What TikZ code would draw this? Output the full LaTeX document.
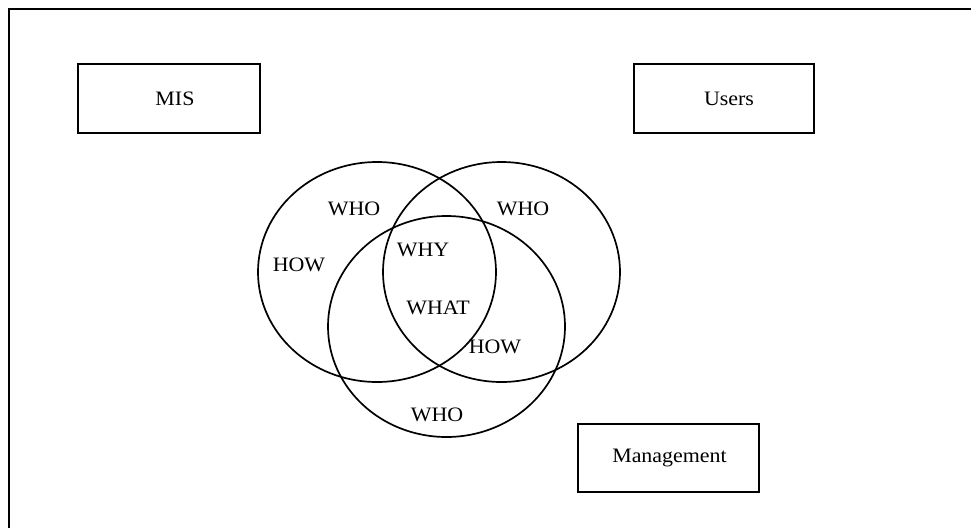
\documentclass[tikz,border=0pt]{standalone}
\usepackage{fontspec}
\setmainfont[FakeStretch=1.07]{Liberation Serif}
\usetikzlibrary{shapes.geometric}
\tikzset{
  txt/.style={font=\fontsize{20.5}{22}\selectfont},
  lbl/.style={txt, inner sep=0pt},
  boxnode/.style={draw, line width=2pt, inner sep=0pt},
  venn/.style={draw, ellipse, line width=1.7pt, inner sep=0pt},
}
\begin{document}
\begin{tikzpicture}[x=1pt,y=-1pt]
\useasboundingbox (0,0) rectangle (971,528);
\draw[line width=2pt] (8.5,528) -- (8.5,8.5) -- (971,8.5);
% boxes
\node[boxnode, minimum width=182pt, minimum height=69pt] (mis) at (169,98.5) {};
\node[lbl] (mist) at (175,98.5) {MIS};
\node[boxnode, minimum width=180pt, minimum height=69pt] (users) at (724,98.5) {};
\node[lbl] (userst) at (729,98.5) {Users};
\node[boxnode, minimum width=181pt, minimum height=68pt] (mgmt) at (668.5,458) {};
\node[lbl] (mgmtt) at (669.5,458) {Management};
% venn circles
\node[venn, minimum width=238pt, minimum height=220pt] (c1) at (377,272) {};
\node[venn, minimum width=237pt, minimum height=220pt] (c2) at (501.5,272) {};
\node[venn, minimum width=237pt, minimum height=221pt] (c3) at (446.5,326.5) {};
% labels
\node[lbl] (who1) at (354,209) {WHO};
\node[lbl] (who2) at (523,209) {WHO};
\node[lbl] (how1) at (299,265) {HOW};
\node[lbl] (why) at (423,250) {WHY};
\node[lbl] (what) at (438,308) {WHAT};
\node[lbl] (how2) at (495,347) {HOW};
\node[lbl] (who3) at (437,415) {WHO};
\end{tikzpicture}
\end{document}
